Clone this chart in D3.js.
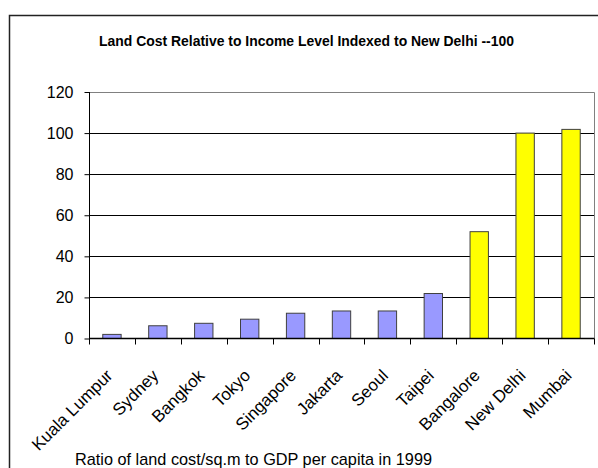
<!DOCTYPE html>
<html>
<head>
<meta charset="utf-8">
<script src="https://cdn.jsdelivr.net/npm/d3@7"></script>
<style>
  body { margin: 0; background: #fff; }
  text { font-family: Arial, "Liberation Sans", sans-serif; }
</style>
</head>
<body>
<svg id="chart" width="598" height="468"></svg>
<script>
// city names along the x axis
var cities = ["Kuala Lumpur", "Sydney", "Bangkok", "Tokyo", "Singapore", "Jakarta",
  "Seoul", "Taipei", "Bangalore", "New Delhi", "Mumbai"];
// land cost relative to income, New Delhi = 100
var values = [2, 6.2, 7.4, 9.4, 12.3, 13.4, 13.4, 21.9, 52, 100, 101.8];
// indian cities are drawn in yellow
var isIndia = [false, false, false, false, false, false, false, false, true, true, true];
var yTicks = [0, 20, 40, 60, 80, 100, 120];

var title = "Land Cost Relative to Income Level Indexed to New Delhi --100";
var caption = "Ratio of land cost/sq.m to GDP per capita in 1999";

var svg = d3.select("#chart");

// outer frame, runs off the right and bottom edge
svg.append("rect")
  .attr("x", 9.5).attr("y", 15.5)
  .attr("width", 700).attr("height", 600)
  .attr("fill", "none")
  .attr("stroke", "#222")
  .attr("stroke-width", 1.5);

var plot = { left: 89, right: 594, top: 92, bottom: 338.5 };

var x = d3.scaleBand()
  .domain(cities)
  .range([plot.left, plot.right])
  .paddingInner(0.6)
  .paddingOuter(0.3);

var y = d3.scaleLinear()
  .domain([0, 120])
  .range([plot.bottom, plot.top]);

// gridlines
svg.append("g")
  .selectAll("line")
  .data(yTicks.filter(function(d) { return d > 0 && d < 120; }))
  .enter().append("line")
  .attr("x1", plot.left).attr("x2", plot.right)
  .attr("y1", function(d) { return Math.round(y(d)) + 0.5; })
  .attr("y2", function(d) { return Math.round(y(d)) + 0.5; })
  .attr("stroke", "#000")
  .attr("stroke-width", 1);

// plot area border top / right (gray)
svg.append("path")
  .attr("d", "M" + plot.left + "," + (y(120) + 0.5) + "H" + (plot.right + 0.5) + "V" + plot.bottom)
  .attr("fill", "none")
  .attr("stroke", "#808080")
  .attr("stroke-width", 1);

// bars
svg.append("g")
  .selectAll("rect")
  .data(cities)
  .enter().append("rect")
  .attr("x", function(d) { return x(d); })
  .attr("y", function(d, i) { return y(values[i]); })
  .attr("width", x.bandwidth())
  .attr("height", function(d, i) { return y(0) - y(values[i]); })
  .attr("fill", function(d, i) { return isIndia[i] ? "#FFFF00" : "#9999FF"; })
  .attr("stroke", "#404040")
  .attr("stroke-width", 1);

// y axis
var yAxis = svg.append("g")
  .attr("transform", "translate(" + (plot.left + 0.5) + ",0)")
  .call(d3.axisLeft(y).tickValues(yTicks).tickSize(5).tickPadding(11).tickFormat(d3.format("d")));
yAxis.select(".domain").attr("stroke", "#000").attr("d", "M0," + y(120) + "V" + plot.bottom);
yAxis.selectAll(".tick line").attr("stroke", "#000");
yAxis.selectAll(".tick text")
  .attr("fill", "#000")
  .style("font-size", "16px");

// x axis: line with ticks at category boundaries
var step = x.step();
var bounds = d3.range(cities.length + 1).map(function(i) { return plot.left + i * step; });
svg.append("line")
  .attr("x1", plot.left).attr("x2", plot.right + 0.5)
  .attr("y1", plot.bottom).attr("y2", plot.bottom)
  .attr("stroke", "#000").attr("stroke-width", 1.5);
svg.append("g")
  .selectAll("line")
  .data(bounds)
  .enter().append("line")
  .attr("x1", function(d) { return Math.round(d) + 0.5; })
  .attr("x2", function(d) { return Math.round(d) + 0.5; })
  .attr("y1", plot.bottom).attr("y2", plot.bottom + 6)
  .attr("stroke", "#000");

// rotated category labels
svg.append("g")
  .selectAll("text")
  .data(cities)
  .enter().append("text")
  .attr("transform", function(d) {
    var cx = x(d) + x.bandwidth() / 2;
    return "translate(" + (cx - 7) + ",368) rotate(-45)";
  })
  .attr("text-anchor", "end")
  .attr("dy", "0.72em")
  .style("font-size", "17px")
  .attr("fill", "#000")
  .text(function(d) { return d; });

// title
svg.append("text")
  .attr("x", 99).attr("y", 46)
  .attr("textLength", 415)
  .attr("lengthAdjust", "spacingAndGlyphs")
  .style("font-size", "14.5px")
  .style("font-weight", "bold")
  .attr("fill", "#000")
  .text(title);

// axis caption
svg.append("text")
  .attr("x", 75).attr("y", 465)
  .attr("textLength", 357)
  .attr("lengthAdjust", "spacingAndGlyphs")
  .style("font-size", "17px")
  .attr("fill", "#000")
  .text(caption);
</script>
</body>
</html>
